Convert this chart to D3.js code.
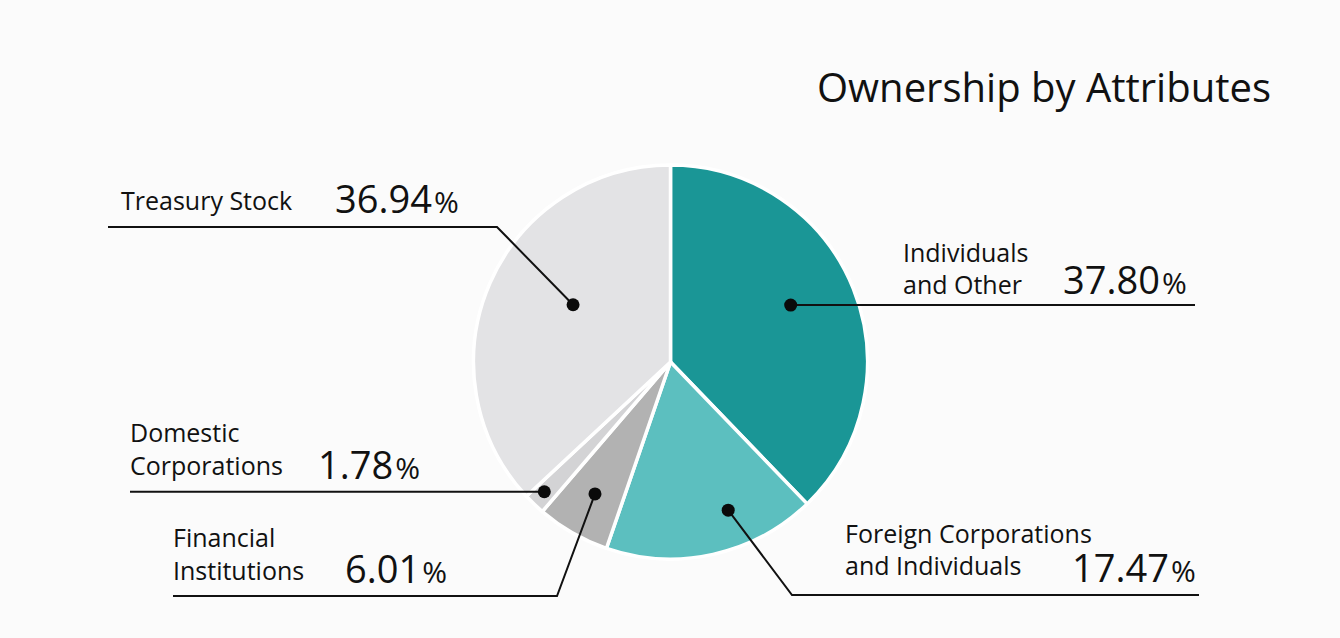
<!DOCTYPE html>
<html>
<head>
<meta charset="utf-8">
<script src="https://cdn.jsdelivr.net/npm/d3@7"></script>
<style>
  html, body { margin: 0; padding: 0; background: #fbfbfb; }
  svg { display: block; }
</style>
</head>
<body>
<svg id="chart"></svg>
<script>
// values, clockwise from 12 o'clock
const categories = ["Individuals and Other", "Foreign Corporations and Individuals", "Financial Institutions", "Domestic Corporations", "Treasury Stock"];
const shares = [37.80, 17.47, 6.01, 1.78, 36.94];
const labelLines = [["Individuals", "and Other"], ["Foreign Corporations", "and Individuals"], ["Financial", "Institutions"], ["Domestic", "Corporations"], ["Treasury Stock"]];
const colors = ["#1a9696", "#5cbfbf", "#b2b2b2", "#d3d3d5", "#e3e3e5"];

const width = 1340, height = 638;
const cx = 670.5, cy = 362, radius = 197;
const font = "'Open Sans', 'Noto Sans', sans-serif";

// callout layout: dot radius + position inside slice, elbow and label placement
const layout = [
  {r: 133, t: 0.475, lineY: null, elbowX: null, endX: 1195, textX: 903, textY: [262, 294], numX: 1063, numY: 294},
  {r: 159, t: 0.36, lineY: 595, elbowX: 792, endX: 1199, textX: 845, textY: [543, 575], numX: 1072, numY: 582},
  {r: 152, t: 0.5, lineY: 596, elbowX: 557, endX: 173, textX: 173, textY: [547, 580], numX: 345, numY: 583},
  {r: 181, t: 0.56, lineY: null, elbowX: null, endX: 130, textX: 130, textY: [442, 475], numX: 318, numY: 479},
  {r: 113, t: 0.552, lineY: 227, elbowX: 497, endX: 108, textX: 121, textY: [210], numX: 335, numY: 213}
];

const svg = d3.select("#chart").attr("width", width).attr("height", height);
svg.append("rect").attr("width", width).attr("height", height).attr("fill", "#fbfbfb");

const pie = d3.pie().sort(null).value(d => d);
const arcs = pie(shares);
const arc = d3.arc().innerRadius(0).outerRadius(radius);

const g = svg.append("g").attr("transform", `translate(${cx},${cy})`);
g.selectAll("path").data(arcs).join("path")
  .attr("d", arc)
  .attr("fill", (d, i) => colors[i])
  .attr("stroke", "#ffffff")
  .attr("stroke-width", 3.5)
  .attr("stroke-linejoin", "round");

// title
svg.append("text")
  .attr("x", 817).attr("y", 102)
  .style("font-family", font)
  .style("font-size", "40px")
  .attr("fill", "#111")
  .text("Ownership by Attributes");

arcs.forEach((d, i) => {
  const L = layout[i];
  const a = d.startAngle + (d.endAngle - d.startAngle) * L.t;
  const dx = cx + L.r * Math.sin(a);
  const dy = cy - L.r * Math.cos(a);
  const pts = L.lineY === null
    ? [[dx, dy], [L.endX, dy]]
    : [[dx, dy], [L.elbowX, L.lineY], [L.endX, L.lineY]];
  svg.append("path")
    .attr("d", d3.line()(pts))
    .attr("fill", "none")
    .attr("stroke", "#111")
    .attr("stroke-width", 2);
  svg.append("circle").attr("cx", dx).attr("cy", dy).attr("r", 6.5).attr("fill", "#0a0a0a");

  labelLines[i].forEach((line, j) => {
    svg.append("text")
      .attr("x", L.textX).attr("y", L.textY[j])
      .style("font-family", font).style("font-size", "25px")
      .attr("fill", "#111")
      .text(line);
  });
  const num = svg.append("text")
    .attr("x", L.numX).attr("y", L.numY)
    .style("font-family", font)
    .attr("fill", "#111");
  num.append("tspan").style("font-size", "38px").text(shares[i].toFixed(2));
  num.append("tspan").style("font-size", "30px").attr("dx", 2).text("%");
});
</script>
</body>
</html>
